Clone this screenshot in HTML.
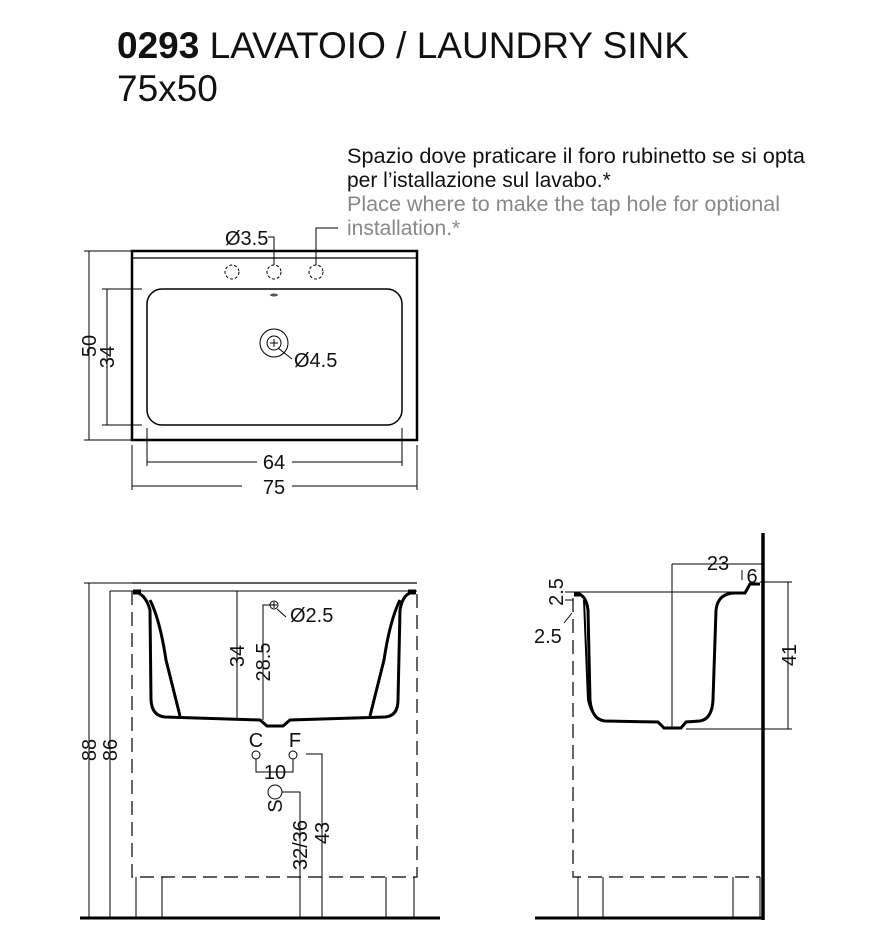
<!DOCTYPE html>
<html><head><meta charset="utf-8"><style>
html,body{margin:0;padding:0;background:#fff;}
svg{display:block;font-family:"Liberation Sans",Arial,sans-serif;}
</style></head><body>
<svg width="877" height="945" viewBox="0 0 877 945" xmlns="http://www.w3.org/2000/svg">
<text x="117" y="58" font-size="37" fill="#111" textLength="572" lengthAdjust="spacingAndGlyphs"><tspan font-weight="bold">0293</tspan> LAVATOIO / LAUNDRY SINK</text>
<text x="117" y="101" font-size="37" fill="#111">75x50</text>
<g font-size="21">
<text x="347" y="163" fill="#111" textLength="458" lengthAdjust="spacingAndGlyphs">Spazio dove praticare il foro rubinetto se si opta</text>
<text x="347" y="187" fill="#111">per l’istallazione sul lavabo.*</text>
<text x="347" y="211" fill="#888" textLength="433" lengthAdjust="spacingAndGlyphs">Place where to make the tap hole for optional</text>
<text x="347" y="235" fill="#888">installation.*</text>
</g>
<!-- top view -->
<g stroke="#000" fill="none">
<rect x="132" y="251" width="285" height="189" stroke-width="2.5"/>
<line x1="132" y1="258" x2="417" y2="258" stroke-width="1.2"/>
<rect x="147" y="289" width="255" height="136" rx="15" stroke-width="1.5"/>
<g stroke-dasharray="3,2" stroke-width="1"><circle cx="232" cy="272" r="7"/><circle cx="274" cy="272" r="7"/><circle cx="316" cy="272" r="7"/></g>
<circle cx="274" cy="343" r="14" stroke-width="1"/><circle cx="274" cy="343" r="7" stroke-width="1"/>
<path d="M270 343h8M274 339v8" stroke-width="1"/>
<path d="M278 348l14 11" stroke-width="1"/>
<ellipse cx="274" cy="295" rx="4" ry="1.5" fill="#555" stroke="none"/>
<path d="M268 237h6v28M316 265v-37h22" stroke-width="1"/>
<g stroke-width="1">
<path d="M89 251v189M84 251h48M84 440h48"/>
<path d="M107 289v136M102 289h40M102 425h40"/>
<path d="M147 428v38M402 428v38M147 462h110M292 462h110"/>
<path d="M132 445v45M417 445v45M132 486h110M292 486h125"/>
</g></g>
<g font-size="20" fill="#111">
<text x="225" y="245">Ø3.5</text>
<text x="294" y="367">Ø4.5</text>
<text x="274" y="469" text-anchor="middle">64</text>
<text x="274" y="494" text-anchor="middle">75</text>
<text transform="translate(96,346) rotate(-90)" text-anchor="middle">50</text>
<text transform="translate(114,357) rotate(-90)" text-anchor="middle">34</text>
</g>
<!-- front view -->
<g stroke="#000" fill="none">
<line x1="132" y1="583" x2="417" y2="583" stroke-width="1.2"/>
<line x1="110" y1="591" x2="417" y2="591" stroke-width="1"/>
<g stroke-dasharray="14,7" stroke-width="1.2"><path d="M132 591v286h285V591"/></g>
<path d="M136 877v41M162 877v41M386 877v41M414 877v41" stroke-width="1"/>
<line x1="80" y1="918" x2="440" y2="918" stroke-width="3"/>
<path d="M133 592Q145 592 150 610L151 700Q152 716 165 717L260 720L267 726H283L290 720L385 717Q398 716 398 700L400 610Q403 592 415 592" stroke-width="3"/>
<path d="M133 592h8M408 592h8" stroke-width="5"/>
<path d="M150 600Q160 620 166 660L180 716M400 600Q390 620 384 660L370 716" stroke-width="3"/>
<g stroke-width="1">
<path d="M89 583v335M84 583h48M110 591v327"/>
<path d="M237 591v129M263 720V605h8"/>
<circle cx="274" cy="605" r="4"/><path d="M271 605h6M274 602v6M277 609l9 8"/>
<circle cx="256" cy="755" r="4"/><circle cx="293" cy="755" r="4"/>
<path d="M256 759v13h37v-13"/>
<circle cx="275" cy="792" r="7"/>
<path d="M282 792h18v126M306 754h16v164"/>
</g></g>
<g font-size="20" fill="#111">
<text x="290" y="622">Ø2.5</text>
<text x="256" y="747" text-anchor="middle">C</text>
<text x="295" y="747" text-anchor="middle">F</text>
<text x="275" y="779" text-anchor="middle">10</text>
<text transform="translate(282,806) rotate(-90)" text-anchor="middle">S</text>
<text transform="translate(244,656) rotate(-90)" text-anchor="middle">34</text>
<text transform="translate(270,662) rotate(-90)" text-anchor="middle">28.5</text>
<text transform="translate(307,845) rotate(-90)" text-anchor="middle">32/36</text>
<text transform="translate(329,833) rotate(-90)" text-anchor="middle">43</text>
<text transform="translate(96,750) rotate(-90)" text-anchor="middle">88</text>
<text transform="translate(117,750) rotate(-90)" text-anchor="middle">86</text>
</g>
<!-- side view -->
<g stroke="#000" fill="none">
<line x1="763" y1="533" x2="763" y2="920" stroke-width="3.5"/>
<line x1="535" y1="918" x2="763" y2="918" stroke-width="3"/>
<g stroke-dasharray="14,7" stroke-width="1.2"><path d="M573 598v279h187"/></g>
<path d="M578 877v41M603 877v41M733 877v41M760 877v41" stroke-width="1"/>
<line x1="573" y1="592" x2="735" y2="592" stroke-width="1"/>
<path d="M574 593Q586 593 588 610L590 700Q592 720 605 721L658 722L664 728H681L686 722L700 721Q712 719 713 700L716 610Q718 593 735 593H745L750 584H760" stroke-width="3"/>
<path d="M574 594h6" stroke-width="5"/>
<path d="M584 600L588 700Q592 718 603 720" stroke-width="2"/>
<g stroke-width="1">
<path d="M672 564h91M672 564v164M686 729h106M788 582v147M760 582h32M742 570v10"/>
<path d="M565 592h8M565 600h8M572 613l-8 10"/>
</g></g>
<g font-size="20" fill="#111">
<text x="718" y="570" text-anchor="middle">23</text>
<text x="752" y="583" text-anchor="middle">6</text>
<text transform="translate(796,655) rotate(-90)" text-anchor="middle">41</text>
<text transform="translate(563,592) rotate(-90)" text-anchor="middle">2.5</text>
<text x="534" y="643">2.5</text>
</g>
</svg>
</body></html>
